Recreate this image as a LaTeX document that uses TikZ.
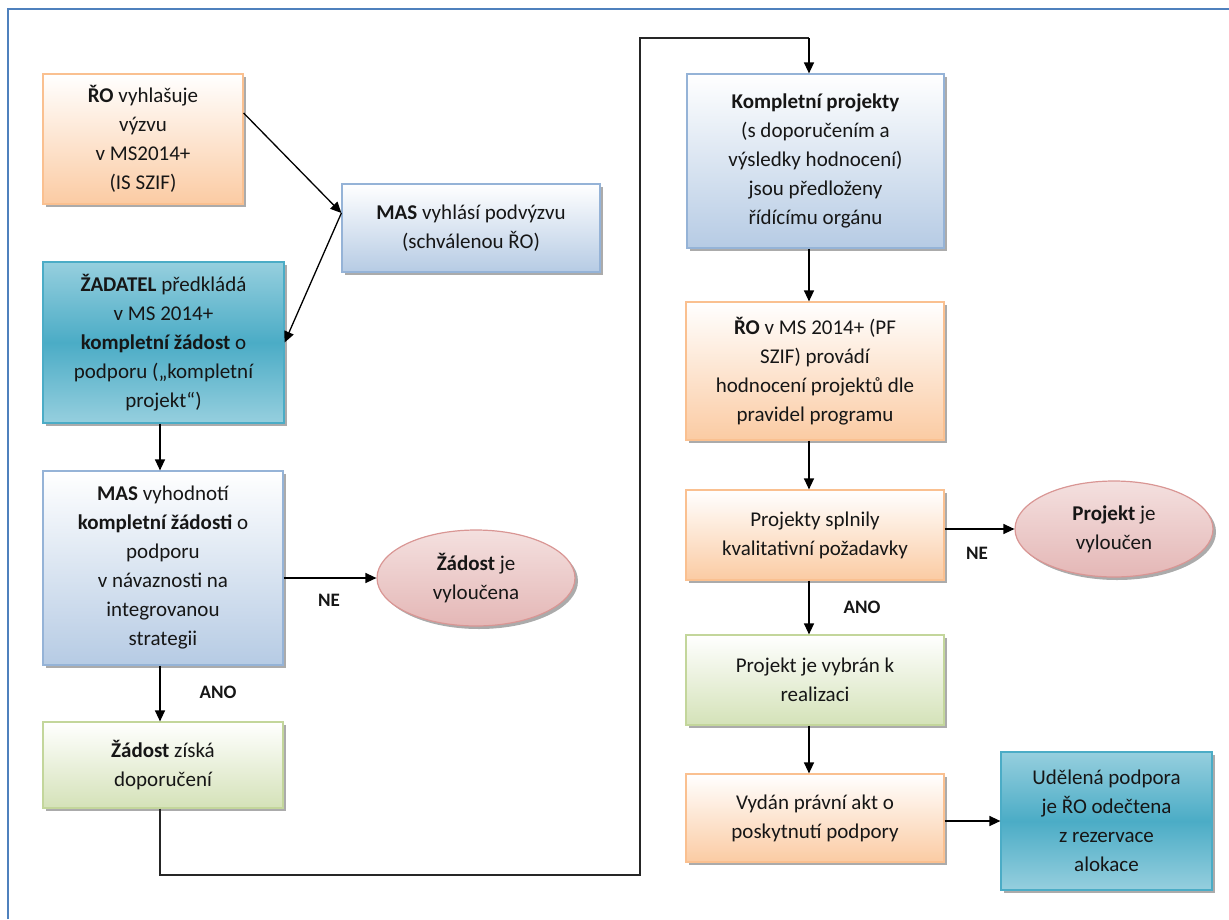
\documentclass[tikz,border=0pt]{standalone}
\usepackage{fontspec}
\setmainfont{Carlito}
\usetikzlibrary{arrows.meta,shapes.geometric,shadows}
\definecolor{frameblue}{HTML}{4F81BD}
\definecolor{orB}{HTML}{FAC090}
\definecolor{orBot}{HTML}{FBCBA3}
\definecolor{blB}{HTML}{95B3D7}
\definecolor{blBot}{HTML}{B6CBE4}
\definecolor{grB}{HTML}{C3D69B}
\definecolor{grBot}{HTML}{D4E2B8}
\definecolor{tlB}{HTML}{4BACC6}
\definecolor{tlEdge}{HTML}{96CFDE}
\definecolor{tlMid}{HTML}{4BACC6}
\definecolor{pkB}{HTML}{D99694}
\definecolor{pkTop}{HTML}{F4E0DF}
\definecolor{pkBot}{HTML}{E4B7B6}
\definecolor{txt}{HTML}{161616}
\tikzset{
  base/.style={rectangle, inner sep=0pt, align=center, text=txt, line width=1.2pt,
    font=\fontsize{21}{29}\selectfont,
    drop shadow={shadow xshift=3pt, shadow yshift=-3pt, fill=black!55, opacity=0.6}},
  orangebox/.style={base, draw=orB, top color=white, bottom color=orBot},
  bluebox/.style={base, draw=blB, top color=white, bottom color=blBot},
  greenbox/.style={base, draw=grB, top color=white, bottom color=grBot},
  tealbox/.style={base, draw=tlB, top color=tlEdge, bottom color=tlEdge, middle color=tlMid},
  pinkell/.style={base, ellipse, draw=pkB, top color=pkTop, bottom color=pkBot,
    minimum width=198pt, minimum height=96pt},
  arr/.style={draw=black, line width=1.3pt, -{Triangle[length=11pt,width=10pt]}},
  conn/.style={draw=black!85, line width=1.3pt},
  lbl/.style={inner sep=0pt, text=txt, font=\fontsize{19}{22}\selectfont\bfseries}
}
\begin{document}
\begin{tikzpicture}[x=1pt,y=-1pt]
\useasboundingbox (0,0) rectangle (1229,919);
\draw[frameblue, line width=2.2pt] (8,919) -- (8,9) -- (1229,9);

% left column
\node[orangebox, minimum width=200pt, minimum height=130pt] (b1) at (143,139)
  {\textbf{ŘO} vyhlašuje\\výzvu\\v MS2014+\\(IS SZIF)};
\node[bluebox, minimum width=258pt, minimum height=88pt] (b2) at (471,228)
  {\textbf{MAS} vyhlásí podvýzvu\\(schválenou ŘO)};
\node[tealbox, minimum width=241pt, minimum height=161pt] (b3) at (163.5,342.5)
  {\textbf{ŽADATEL} předkládá\\v MS 2014+\\\textbf{kompletní žádost} o\\podporu („kompletní\\projekt“)};
\node[bluebox, minimum width=240pt, minimum height=194pt] (b4) at (163,568)
  {\textbf{MAS} vyhodnotí\\\textbf{kompletní žádosti} o\\podporu\\v návaznosti na\\integrovanou\\strategii};
\node[greenbox, minimum width=240pt, minimum height=86pt] (b5) at (163,765)
  {\textbf{Žádost} získá\\doporučení};
\node[pinkell] (e1) at (476,578) {\textbf{Žádost} je\\vyloučena};

% right column
\node[bluebox, minimum width=257pt, minimum height=174pt] (b6) at (815.5,161)
  {\textbf{Kompletní projekty}\\(s doporučením a\\výsledky hodnocení)\\jsou předloženy\\řídícímu orgánu};
\node[orangebox, minimum width=258pt, minimum height=138pt] (b7) at (815,371)
  {\textbf{ŘO} v MS 2014+ (PF\\SZIF) provádí\\hodnocení projektů dle\\pravidel programu};
\node[orangebox, minimum width=258pt, minimum height=90pt] (b8) at (815,535)
  {Projekty splnily\\kvalitativní požadavky};
\node[pinkell] (e2) at (1114,529) {\textbf{Projekt} je\\vyloučen};
\node[greenbox, minimum width=258pt, minimum height=90pt] (b9) at (815,680)
  {Projekt je vybrán k\\realizaci};
\node[orangebox, minimum width=258pt, minimum height=88pt] (b10) at (815,818)
  {Vydán právní akt o\\poskytnutí podpory};
\node[tealbox, minimum width=211pt, minimum height=138pt] (b11) at (1106.5,821)
  {Udělená podpora\\je ŘO odečtena\\z rezervace\\alokace};

% labels
\node[lbl] (ne1) at (329,600) {NE};
\node[lbl] (ano1) at (218,692) {ANO};
\node[lbl] (ne2) at (977,553) {NE};
\node[lbl] (ano2) at (862,607) {ANO};

% helper coordinates
\coordinate (lc) at (160,0);
\coordinate (rc) at (809,0);
\coordinate (c1) at (640,875);
\coordinate (c2) at (640,38);
\coordinate (c3) at (809,38);

% connectors
\draw[arr] ([yshift=26pt]b1.east) -- ([yshift=15pt]b2.west);
\draw[arr] ([yshift=15pt]b2.west) -- (b3.east);
\draw[arr] (b3.south -| lc) -- (b4.north -| lc);
\draw[arr] (b4.east |- e1.west) -- (e1.west);
\draw[arr] (b4.south -| lc) -- (b5.north -| lc);
\draw[conn] (b5.south -| lc) |- (c1) -- (c2) -- (c3);
\draw[arr] (c3) -- (b6.north -| rc);
\draw[arr] (b6.south -| rc) -- (b7.north -| rc);
\draw[arr] (b7.south -| rc) -- (b8.north -| rc);
\draw[arr] (b8.east |- e2.west) -- (e2.west);
\draw[arr] (b8.south -| rc) -- (b9.north -| rc);
\draw[arr] (b9.south -| rc) -- (b10.north -| rc);
\draw[arr] (b10.east |- b11.west) -- (b11.west);
\end{tikzpicture}
\end{document}
